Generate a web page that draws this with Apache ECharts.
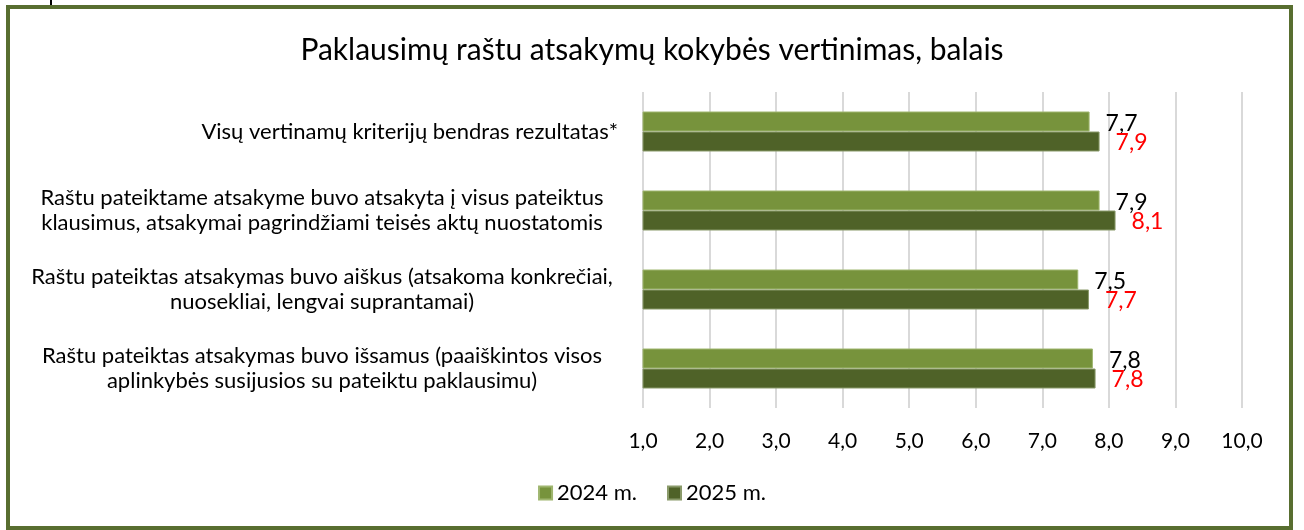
<!DOCTYPE html>
<html><head><meta charset="utf-8">
<script src="https://cdn.jsdelivr.net/npm/echarts@6/dist/echarts.min.js"></script>
<style>html,body{margin:0;padding:0;background:#fff}#c{width:1304px;height:530px}</style>
</head><body><div id="c"></div>
<script>
const categories = [
  "Visų vertinamų kriterijų bendras rezultatas*",
  "Raštu pateiktame atsakyme buvo atsakyta į visus pateiktus\nklausimus, atsakymai pagrindžiami teisės aktų nuostatomis",
  "Raštu pateiktas atsakymas buvo aiškus (atsakoma konkrečiai,\nnuosekliai, lengvai suprantamai)",
  "Raštu pateiktas atsakymas buvo išsamus (paaiškintos visos\naplinkybės susijusios su pateiktu paklausimu)"
];
const values2024 = [7.71, 7.86, 7.54, 7.76];
const values2025 = [7.86, 8.10, 7.70, 7.80];
const seriesNames = ["2024 m.", "2025 m."];
const titleText = "Paklausimų raštu atsakymų kokybės vertinimas, balais";

const FONT = "Lato, 'Noto Sans', sans-serif";
const fmt = v => v.toFixed(1).replace('.', ',');
const chart = echarts.init(document.getElementById('c'), null, {renderer: 'canvas'});
chart.setOption({
  animation: false,
  textStyle: {fontFamily: FONT},
  title: {text: titleText, left: 'center', top: 30,
    textStyle: {fontFamily: FONT, fontSize: 30, fontWeight: 'normal', color: '#000'}},
  legend: {bottom: 21, left: 'center', itemWidth: 13, itemHeight: 13, itemGap: 30,
    icon: 'rect', textStyle: {fontFamily: FONT, fontSize: 22, color: '#000'}},
  grid: {left: 643, right: 62, top: 92, bottom: 122, containLabel: false},
  xAxis: {type: 'value', min: 1, max: 10, interval: 1,
    axisLine: {show: false}, axisTick: {show: false},
    splitLine: {lineStyle: {color: '#d9d9d9', width: 2}},
    axisLabel: {fontFamily: FONT, fontSize: 21, color: '#000', margin: 23, formatter: v => fmt(v)}},
  yAxis: {type: 'category', data: categories, inverse: true,
    axisLine: {show: false}, axisTick: {show: false},
    axisLabel: {fontFamily: FONT, fontSize: 22, color: '#000', margin: 25, lineHeight: 25,
      align: 'right',
      formatter: (v, i) => v.indexOf('\n') < 0 ? v : v.split('\n').map(l => '{c|' + l + '}').join('\n'),
      rich: {c: {fontFamily: FONT, fontSize: 22, color: '#000', width: 592, align: 'center', lineHeight: 25}}}},
  series: [
    {name: seriesNames[0], type: 'bar', data: values2024, barWidth: 20, barGap: '0%',
      itemStyle: {color: '#77933c', borderColor: '#9fb66f', borderWidth: 1},
      label: {show: true, position: 'right', distance: 16, offset: [0, 2], fontFamily: FONT, fontSize: 23, color: '#000', formatter: p => fmt(p.value)}},
    {name: seriesNames[1], type: 'bar', data: values2025, barWidth: 20,
      itemStyle: {color: '#4f6228', borderColor: '#8a9a6a', borderWidth: 1},
      label: {show: true, position: 'right', distance: 16, offset: [0, 1], fontFamily: FONT, fontSize: 23, color: '#ff0000', formatter: p => fmt(p.value)}}
  ],
  graphic: [
    {type: 'rect', shape: {x: 8, y: 7, width: 1283, height: 521}, silent: true,
      style: {fill: 'none', stroke: '#586e30', lineWidth: 4}},
    {type: 'line', shape: {x1: 51, y1: 0, x2: 51, y2: 5}, style: {stroke: '#000', lineWidth: 2}}
  ]
});
</script></body></html>
